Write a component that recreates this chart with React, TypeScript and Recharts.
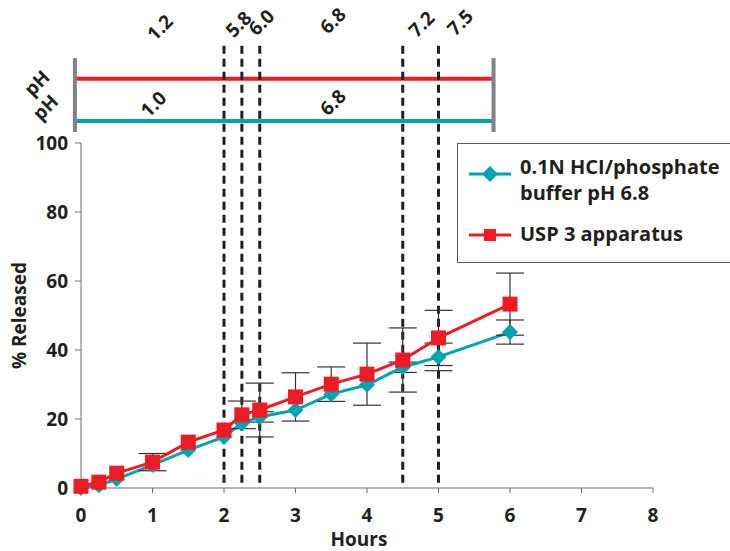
import {
  LineChart,
  Line,
  XAxis,
  YAxis,
  ErrorBar,
  ReferenceLine,
  ReferenceDot,
} from 'recharts';

const hours = [0, 0.25, 0.5, 1, 1.5, 2, 2.25, 2.5, 3, 3.5, 4, 4.5, 5, 6];
const hclReleased = [0, 0.8, 2.6, 6.7, 11, 14.8, 18.8, 20.6, 22.6, 27.2, 29.9, 35, 38, 45.2];
const hclError = [0, 0, 0, 0, 0, 0, 0, 1.5, 0, 0, 0, 1.5, 4, 3.5];
const usp3Released = [0.5, 1.7, 4.3, 7.5, 13.3, 16.8, 21.2, 22.6, 26.4, 30.1, 33, 37.1, 43.5, 53.3];
const usp3Error = [0, 0, 0, 2.5, 0, 0, 4, 7.8, 7, 5, 9, 9.3, 8, 9];

const xTicks = [0, 1, 2, 3, 4, 5, 6, 7, 8];
const yTicks = [0, 20, 40, 60, 80, 100];

// pH change times (hours)
const phChanges = [2, 2.25, 2.5, 4.5, 5];
const usp3PhLabels = ['1.2', '5.8', '6.0', '6.8', '7.2', '7.5'];
const hclPhLabels = ['1.0', '6.8'];

// label placement in chart units (above the 0-100 range)
const usp3LabelPos = [
  { x: 1.1, y: 133.5 },
  { x: 2.2, y: 134.5 },
  { x: 2.52, y: 135 },
  { x: 3.52, y: 135.5 },
  { x: 4.76, y: 134.5 },
  { x: 5.3, y: 135 },
];
const hclLabelPos = [
  { x: 1.01, y: 111.3 },
  { x: 3.52, y: 111.8 },
];

const RED = '#ed1c24';
const TEAL = '#00a3b0';
const INK = '#231f20';
const GREY = '#808285';
const FONT = '"Open Sans", sans-serif';

const data = hours.map((h, i) => ({
  h,
  hcl: hclReleased[i],
  hclErr: hclError[i],
  usp: usp3Released[i],
  uspErr: usp3Error[i],
}));

const Diamond = (props: any) => {
  const { cx, cy } = props;
  if (cx == null || cy == null) return null;
  const r = 8;
  return <path d={`M${cx},${cy - r}L${cx + r},${cy}L${cx},${cy + r}L${cx - r},${cy}Z`} fill={TEAL} />;
};

const Square = (props: any) => {
  const { cx, cy } = props;
  if (cx == null || cy == null) return null;
  return <rect x={cx - 7.5} y={cy - 7.5} width={15} height={15} fill={RED} />;
};

const rotatedText = (text: string) => (props: any) => {
  const { cx, cy } = props;
  return (
    <text
      x={cx}
      y={cy}
      transform={`rotate(-45 ${cx} ${cy})`}
      textAnchor="middle"
      dominantBaseline="central"
      fontFamily={FONT}
      fontWeight={700}
      fontSize={19}
      fill={INK}
    >
      {text}
    </text>
  );
};

const tickStyle = { fill: INK, fontSize: 19, fontWeight: 700, fontFamily: FONT };

export default function App() {
  return (
    <div style={{ position: 'absolute', left: 0, top: 0, width: 730, height: 551, background: '#fff' }}>
      <LineChart
        width={730}
        height={551}
        data={data}
        margin={{ top: 143, right: 77, bottom: 33, left: 0 }}
      >
        <XAxis
          dataKey="h"
          type="number"
          domain={[0, 8]}
          ticks={xTicks}
          interval={0}
          height={30}
          stroke="#6d6e71"
          tickSize={5}
          tickMargin={16}
          tick={tickStyle}
          label={{
            value: 'Hours',
            position: 'insideBottom',
            offset: -28,
            dx: -8,
            fill: INK,
            fontSize: 19,
            fontWeight: 700,
            fontFamily: FONT,
          }}
        />
        <YAxis
          type="number"
          domain={[0, 100]}
          ticks={yTicks}
          interval={0}
          width={81}
          stroke="#6d6e71"
          tickSize={6}
          tickMargin={7}
          tick={tickStyle}
          label={{
            value: '% Released',
            angle: -90,
            position: 'insideLeft',
            dx: 14,
            fill: INK,
            fontSize: 19,
            fontWeight: 700,
            fontFamily: FONT,
            style: { textAnchor: 'middle' },
          }}
        />

        {/* pH bars across the top */}
        <ReferenceLine
          segment={[{ x: -0.07, y: 118.6 }, { x: 5.76, y: 118.6 }]}
          stroke={RED}
          strokeWidth={4}
          ifOverflow="visible"
        />
        <ReferenceLine
          segment={[{ x: -0.07, y: 106.4 }, { x: 5.76, y: 106.4 }]}
          stroke={TEAL}
          strokeWidth={4}
          ifOverflow="visible"
        />
        <ReferenceLine
          segment={[{ x: -0.085, y: 124.6 }, { x: -0.085, y: 103.2 }]}
          stroke={GREY}
          strokeWidth={4}
          ifOverflow="visible"
        />
        <ReferenceLine
          segment={[{ x: 5.77, y: 124.6 }, { x: 5.77, y: 103.2 }]}
          stroke={GREY}
          strokeWidth={4}
          ifOverflow="visible"
        />

        {phChanges.map((t) => (
          <ReferenceLine
            key={t}
            segment={[{ x: t, y: 1.5 }, { x: t, y: 129.3 }]}
            stroke={INK}
            strokeWidth={3}
            strokeDasharray="8 5"
            ifOverflow="visible"
          />
        ))}

        {usp3PhLabels.map((txt, i) => (
          <ReferenceDot
            key={'u' + i}
            x={usp3LabelPos[i].x}
            y={usp3LabelPos[i].y}
            r={0}
            ifOverflow="visible"
            shape={rotatedText(txt)}
          />
        ))}
        {hclPhLabels.map((txt, i) => (
          <ReferenceDot
            key={'h' + i}
            x={hclLabelPos[i].x}
            y={hclLabelPos[i].y}
            r={0}
            ifOverflow="visible"
            shape={rotatedText(txt)}
          />
        ))}
        <ReferenceDot x={-0.62} y={117.4} r={0} ifOverflow="visible" shape={rotatedText('pH')} />
        <ReferenceDot x={-0.5} y={110.4} r={0} ifOverflow="visible" shape={rotatedText('pH')} />

        <Line
          dataKey="hcl"
          stroke={TEAL}
          strokeWidth={3}
          dot={<Diamond />}
          activeDot={false}
          isAnimationActive={false}
        >
          <ErrorBar dataKey="hclErr" direction="y" width={14} stroke="#3d2f30" strokeWidth={1.2} />
        </Line>
        <Line
          dataKey="usp"
          stroke={RED}
          strokeWidth={3}
          dot={<Square />}
          activeDot={false}
          isAnimationActive={false}
        >
          <ErrorBar dataKey="uspErr" direction="y" width={14} stroke="#3d2f30" strokeWidth={1.2} />
        </Line>
      </LineChart>

      {/* legend */}
      <div
        style={{
          position: 'absolute',
          left: 457,
          top: 143,
          width: 273,
          height: 120,
          boxSizing: 'border-box',
          border: `1.5px solid #58595b`,
          borderRight: 'none',
          background: '#fff',
          fontFamily: FONT,
          fontWeight: 700,
          fontSize: 20,
          color: INK,
          lineHeight: '26px',
          whiteSpace: 'nowrap',
        }}
      >
        <svg style={{ position: 'absolute', left: 11, top: 20 }} width={44} height={20}>
          <line x1={0} y1={10} x2={42} y2={10} stroke={TEAL} strokeWidth={3} />
          <path d="M21,2L29,10L21,18L13,10Z" fill={TEAL} />
        </svg>
        <div style={{ position: 'absolute', left: 62, top: 10 }}>
          0.1N HCI/phosphate
          <br />
          buffer pH 6.8
        </div>
        <svg style={{ position: 'absolute', left: 11, top: 81 }} width={44} height={20}>
          <line x1={0} y1={10} x2={42} y2={10} stroke={RED} strokeWidth={3} />
          <rect x={15} y={4} width={12} height={12} fill={RED} />
        </svg>
        <div style={{ position: 'absolute', left: 62, top: 77 }}>USP 3 apparatus</div>
      </div>
    </div>
  );
}
